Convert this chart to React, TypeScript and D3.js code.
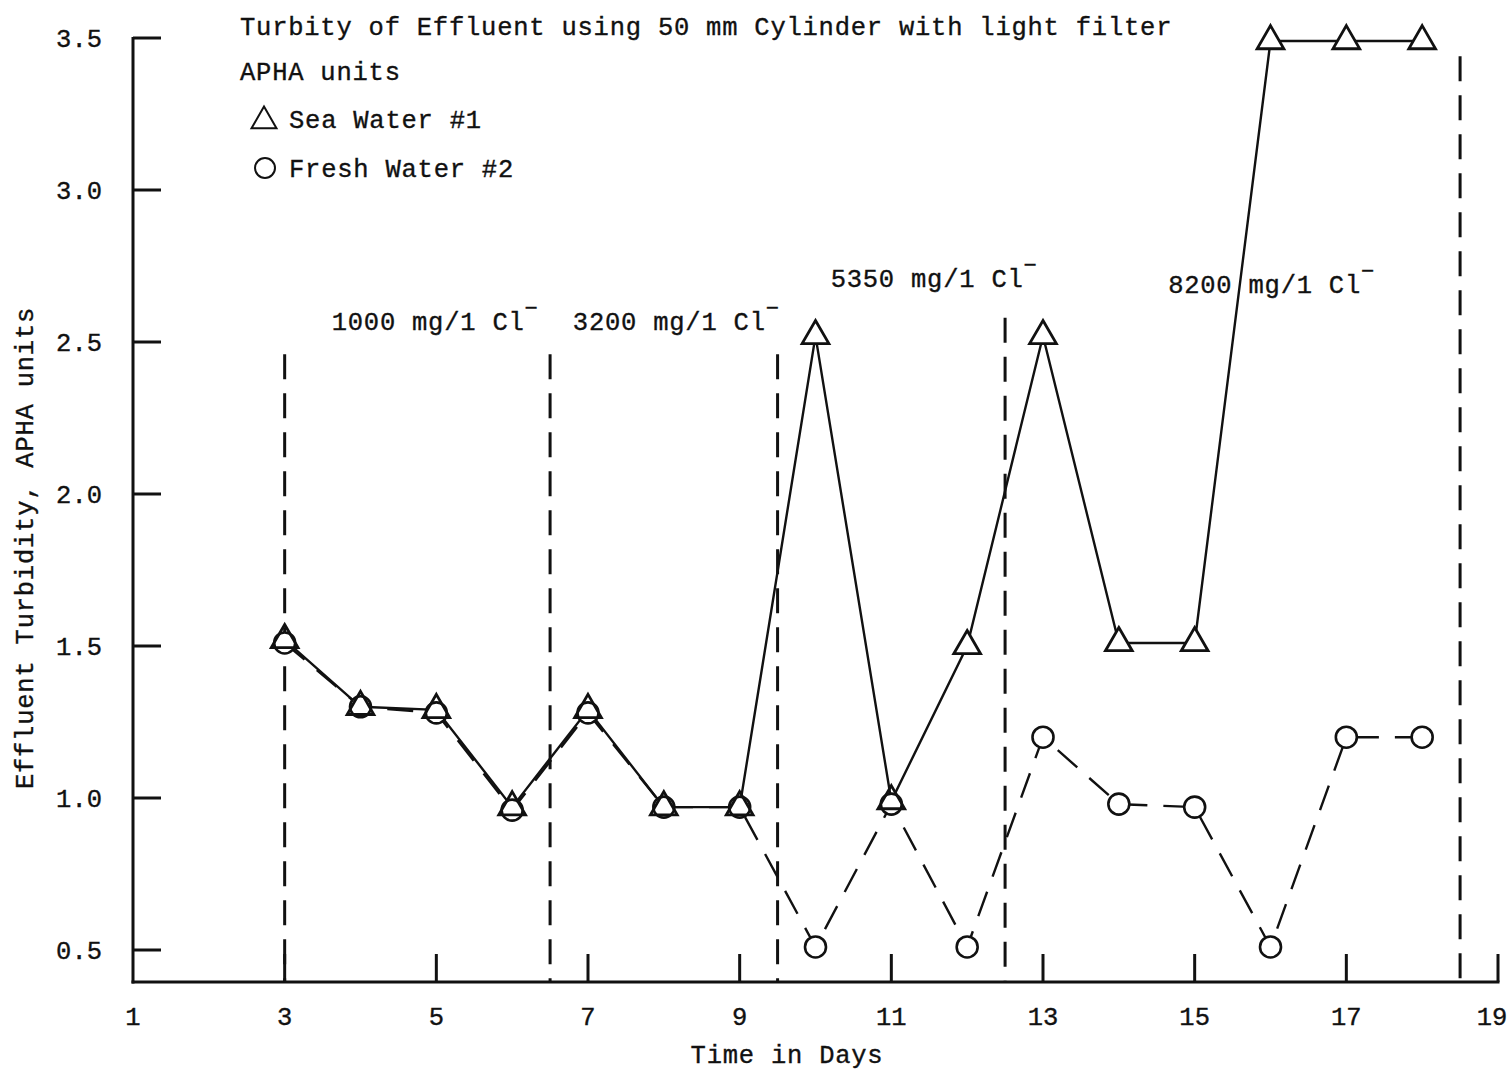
import React from "react";
import * as d3 from "d3";

const days = [3, 4, 5, 6, 7, 8, 9, 10, 11, 12, 13, 14, 15, 16, 17, 18];
const seaWater = [1.52, 1.3, 1.29, 0.97, 1.29, 0.97, 0.97, 2.52, 0.99, 1.5, 2.52, 1.51, 1.51, 3.49, 3.49, 3.49];
const freshWater = [1.51, 1.3, 1.28, 0.96, 1.28, 0.97, 0.97, 0.51, 0.98, 0.51, 1.2, 0.98, 0.97, 0.51, 1.2, 1.2];
const xTicks = [1, 3, 5, 7, 9, 11, 13, 15, 17, 19];
const yTicks = [0.5, 1.0, 1.5, 2.0, 2.5, 3.0, 3.5];
const dividerDays = [3, 6.5, 9.5, 12.5, 18.5];
const dividerTops = [2.46, 2.46, 2.46, 2.58, 3.44];
const chlorideLabels = ["1000 mg/1 Cl", "3200 mg/1 Cl", "5350 mg/1 Cl", "8200 mg/1 Cl"];
const chlorideLabelDays = [3.62, 6.8, 10.2, 14.65];
const chlorideLabelVals = [2.54, 2.54, 2.68, 2.66];
const titleLines = ["Turbity of Effluent using 50 mm Cylinder with light filter", "APHA units"];
const legendLabels = ["Sea Water #1", "Fresh Water #2"];

const FONT = "'Liberation Mono', 'DejaVu Sans Mono', monospace";
const FS = 25.5;
const LS = 0.77;

export default function App() {
  const x = d3.scaleLinear().domain([1, 19]).range([133, 1498]);
  const y = d3.scaleLinear().domain([0.5, 3.5]).range([950, 38]);
  const axisY = 982;
  const tri = d3.symbol().type(d3.symbolTriangle).size(310)() as string;
  const triSmall = d3.symbol().type(d3.symbolTriangle).size(270)() as string;

  const seaPts: [number, number][] = days.map((d, i) => [x(d), y(seaWater[i])]);
  const freshPts: [number, number][] = days.map((d, i) => [x(d), y(freshWater[i])]);
  const line = d3.line();

  const textProps = {
    fontFamily: FONT,
    fontSize: FS,
    letterSpacing: LS,
    fill: "#111",
    stroke: "#111",
    strokeWidth: 0.35,
  } as const;

  return (
    <svg
      width={1511}
      height={1072}
      style={{ position: "absolute", left: 0, top: 0, background: "#fff" }}
    >
      <rect width={1511} height={1072} fill="#fff" />
      {/* axes */}
      <line x1={x(1)} x2={x(1)} y1={y(3.5) - 1} y2={axisY + 1.5} stroke="#111" strokeWidth={3} />
      <line x1={x(1) - 1.5} x2={x(19) + 1.5} y1={axisY} y2={axisY} stroke="#111" strokeWidth={3} />
      {yTicks.map((t) => (
        <g key={"yt" + t}>
          <line x1={x(1)} x2={x(1) + 28} y1={y(t)} y2={y(t)} stroke="#111" strokeWidth={3} />
          <text {...textProps} letterSpacing={0} x={102} y={y(t) + 9} textAnchor="end">
            {t.toFixed(1)}
          </text>
        </g>
      ))}
      {xTicks.map((t) => (
        <g key={"xt" + t}>
          {t !== 1 && (
            <line x1={x(t)} x2={x(t)} y1={axisY} y2={axisY - 28} stroke="#111" strokeWidth={3} />
          )}
          <text {...textProps} letterSpacing={0} x={t === 19 ? x(t) - 6 : x(t)} y={1025} textAnchor="middle">
            {t}
          </text>
        </g>
      ))}
      <text {...textProps} x={787} y={1063} textAnchor="middle">
        Time in Days
      </text>
      <text
        {...textProps}
        transform={`translate(33,548) rotate(-90)`}
        textAnchor="middle"
      >
        Effluent Turbidity, APHA units
      </text>

      {/* dividers */}
      {dividerDays.map((d, i) => (
        <line
          key={"dv" + d}
          x1={x(d)}
          x2={x(d)}
          y1={y(dividerTops[i])}
          y2={axisY}
          stroke="#111"
          strokeWidth={3}
          strokeDasharray="25 14"
        />
      ))}
      {chlorideLabels.map((s, i) => (
        <text key={s} {...textProps} x={x(chlorideLabelDays[i])} y={y(chlorideLabelVals[i])}>
          {s}
          <tspan dy={-15} fontSize={22}>−</tspan>
        </text>
      ))}

      {/* series lines */}
      <path d={line(freshPts) as string} fill="none" stroke="#111" strokeWidth={2.4} strokeDasharray="26 16" />
      <path d={line(seaPts) as string} fill="none" stroke="#111" strokeWidth={2.4} />

      {/* markers */}
      {freshPts.map((p, i) => (
        <circle key={"c" + i} cx={p[0]} cy={p[1]} r={10.5} fill="#fff" stroke="#111" strokeWidth={2.6} />
      ))}
      {seaPts.map((p, i) => (
        <path
          key={"t" + i}
          d={tri}
          transform={`translate(${p[0]},${p[1]})`}
          fill={i < 7 || i === 8 ? "none" : "#fff"}
          stroke="#111"
          strokeWidth={2.8}
        />
      ))}

      {/* title and legend */}
      <text {...textProps} x={240} y={35}>
        {titleLines[0]}
      </text>
      <text {...textProps} x={240} y={80}>
        {titleLines[1]}
      </text>
      <path d={triSmall} transform="translate(264,121)" fill="none" stroke="#111" strokeWidth={2} />
      <text {...textProps} x={289} y={128}>
        {legendLabels[0]}
      </text>
      <circle cx={265} cy={168} r={10} fill="none" stroke="#111" strokeWidth={2} />
      <text {...textProps} x={289} y={177}>
        {legendLabels[1]}
      </text>
    </svg>
  );
}
